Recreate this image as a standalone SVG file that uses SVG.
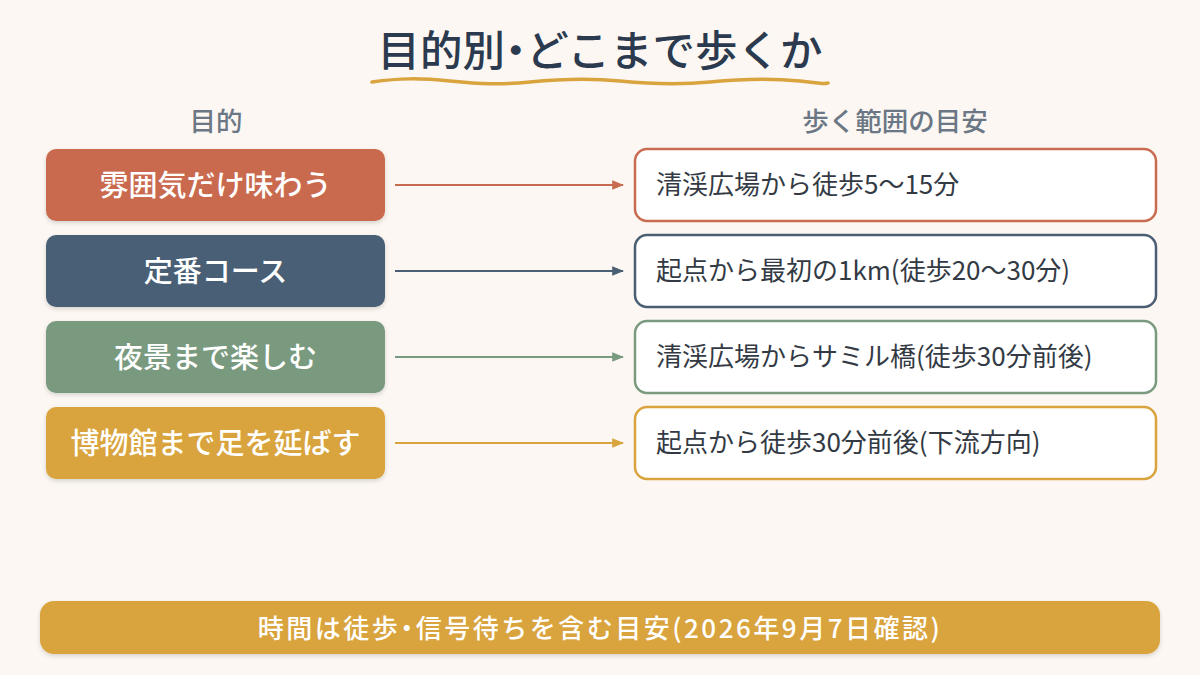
<svg xmlns="http://www.w3.org/2000/svg" width="1200" height="675" viewBox="0 0 1200 675">
<defs>
<style>
text{font-family:"Noto Sans CJK JP","Noto Sans",sans-serif}
.title{font-size:42.5px;font-weight:500;fill:#2b3a4e}
.hdr{font-size:26.5px;font-weight:500;fill:#6b7785}
.lt{font-size:29px;font-weight:500;fill:#ffffff}
.rt{font-size:26px;fill:#333a44}
.rbox{fill:#ffffff;stroke-width:2.5}
.conn{stroke-width:2;fill:none}
.foot{font-size:26px;font-weight:500;fill:#ffffff;letter-spacing:2.5px}
.p{font-feature-settings:"palt"}
</style>
<filter id="sh" x="-10%" y="-10%" width="120%" height="130%">
<feDropShadow dx="0" dy="2" stdDeviation="2" flood-color="#000" flood-opacity="0.15"/>
</filter>
<marker id="a1" viewBox="0 0 10 10" refX="9" refY="5" markerWidth="6" markerHeight="6" orient="auto"><path d="M0,1 L10,5 L0,9 Z" fill="#c96b50"/></marker>
<marker id="a2" viewBox="0 0 10 10" refX="9" refY="5" markerWidth="6" markerHeight="6" orient="auto"><path d="M0,1 L10,5 L0,9 Z" fill="#4a5e74"/></marker>
<marker id="a3" viewBox="0 0 10 10" refX="9" refY="5" markerWidth="6" markerHeight="6" orient="auto"><path d="M0,1 L10,5 L0,9 Z" fill="#7a9a80"/></marker>
<marker id="a4" viewBox="0 0 10 10" refX="9" refY="5" markerWidth="6" markerHeight="6" orient="auto"><path d="M0,1 L10,5 L0,9 Z" fill="#d9a33e"/></marker>
</defs>
<rect width="1200" height="675" fill="#fcf7f2"/>
<g id="title">
<text x="600" y="66" text-anchor="middle" class="title">目的別<tspan class="p">・</tspan>どこまで歩くか</text>
<path d="M372,82 C400,78 420,78 450,81 S500,85 530,82 S590,78 620,81 S680,85 710,82 S770,78 800,81 S820,84 828,83" stroke="#d9a33e" stroke-width="3.5" fill="none" stroke-linecap="round"/>
</g>
<g id="headers">
<text x="216" y="131" text-anchor="middle" class="hdr">目的</text>
<text x="895" y="131" text-anchor="middle" class="hdr">歩く範囲の目安</text>
</g>
<g id="connectors">
<line x1="395" y1="185" x2="623" y2="185" stroke="#c96b50" class="conn" marker-end="url(#a1)"/>
<line x1="395" y1="271" x2="623" y2="271" stroke="#4a5e74" class="conn" marker-end="url(#a2)"/>
<line x1="395" y1="357" x2="623" y2="357" stroke="#7a9a80" class="conn" marker-end="url(#a3)"/>
<line x1="395" y1="443" x2="623" y2="443" stroke="#d9a33e" class="conn" marker-end="url(#a4)"/>
</g>
<g id="n1"><rect x="46" y="149" width="339" height="72" rx="10" fill="#c96b50" filter="url(#sh)"/><text x="215.5" y="196" text-anchor="middle" class="lt">雰囲気だけ味わう</text></g>
<g id="n2"><rect x="46" y="235" width="339" height="72" rx="10" fill="#4a5e74" filter="url(#sh)"/><text x="215.5" y="282" text-anchor="middle" class="lt">定番コース</text></g>
<g id="n3"><rect x="46" y="321" width="339" height="72" rx="10" fill="#7a9a80" filter="url(#sh)"/><text x="215.5" y="368" text-anchor="middle" class="lt">夜景まで楽しむ</text></g>
<g id="n4"><rect x="46" y="407" width="339" height="72" rx="10" fill="#d9a33e" filter="url(#sh)"/><text x="215.5" y="454" text-anchor="middle" class="lt">博物館まで足を延ばす</text></g>
<g id="r1"><rect x="635" y="149" width="521" height="72" rx="12" class="rbox" stroke="#c96b50"/><text x="656" y="194" class="rt">清渓広場から徒歩5〜15分</text></g>
<g id="r2"><rect x="635" y="235" width="521" height="72" rx="12" class="rbox" stroke="#4a5e74"/><text x="656" y="280" class="rt">起点から最初の1km(徒歩20〜30分)</text></g>
<g id="r3"><rect x="635" y="321" width="521" height="72" rx="12" class="rbox" stroke="#7a9a80"/><text x="656" y="366" class="rt">清渓広場からサミル橋(徒歩30分前後)</text></g>
<g id="r4"><rect x="635" y="407" width="521" height="72" rx="12" class="rbox" stroke="#d9a33e"/><text x="656" y="452" class="rt">起点から徒歩30分前後(下流方向)</text></g>
<g id="footer"><rect x="40" y="601" width="1120" height="53" rx="14" fill="#d9a33e" filter="url(#sh)"/><text x="600" y="638" text-anchor="middle" class="foot">時間は徒歩<tspan class="p">・</tspan>信号待ちを含む目安(2026年9月7日確認)</text></g>
</svg>
